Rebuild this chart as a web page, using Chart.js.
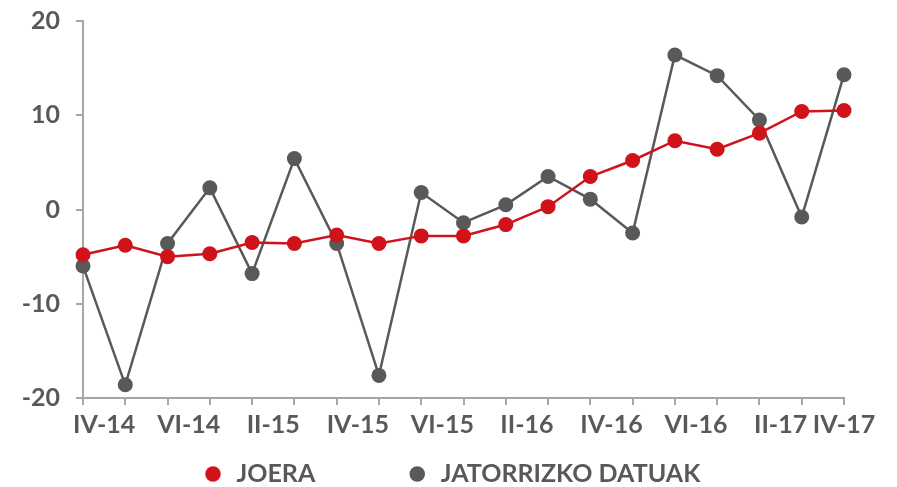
<!DOCTYPE html>
<html>
<head>
<meta charset="utf-8">
<script src="https://cdn.jsdelivr.net/npm/chart.js@4"></script>
<style>
html,body{margin:0;padding:0;background:#ffffff;}
canvas{display:block;}
</style>
</head>
<body>
<canvas id="c" width="897" height="487"></canvas>
<script>
// ---- data ----
const categories = ['IV-14','V-14','VI-14','I-15','II-15','III-15','IV-15','V-15','VI-15','I-16','II-16','III-16','IV-16','V-16','VI-16','I-17','II-17','III-17','IV-17'];
const joera = [-4.8,-3.8,-5.0,-4.7,-3.5,-3.6,-2.7,-3.6,-2.8,-2.8,-1.6,0.3,3.5,5.2,7.3,6.4,8.1,10.4,10.5];
const jatorrizkoDatuak = [-6.0,-18.6,-3.6,2.3,-6.8,5.4,-3.6,-17.6,1.8,-1.4,0.5,3.5,1.1,-2.5,16.4,14.2,9.5,-0.8,14.3];
const tickLabels = ['IV-14','VI-14','II-15','IV-15','VI-15','II-16','IV-16','VI-16','II-17','IV-17'];
const yTicks = [-20,-10,0,10,20];
const seriesNames = ['JOERA','JATORRIZKO DATUAK'];

// ---- style ----
const RED = '#d0121b';
const GRAY = '#595959';
const AXIS = '#a6a6a6';
const TEXT = '#595959';
const FONT = {family: 'Lato', size: 25, weight: 'bold'};
const LEGEND_CENTER_Y = 474;
const LEGEND_GAP = 91;
const LEGEND_FIRST_X = 202;

const lastIndex = categories.length - 1;
function labelPos(label) {
  const idx = categories.indexOf(label);
  return Math.min(idx + 0.5, lastIndex);
}

const legendPlace = {
  id: 'legendPlace',
  afterLayout(chart) {
    const lg = chart.legend;
    if (!lg) return;
    const pad = lg.options.labels.padding;
    lg.top = LEGEND_CENTER_Y - pad - FONT.size / 2;
    lg.left = LEGEND_FIRST_X - pad;
    lg.right = chart.width;
    lg.width = lg.right - lg.left;
  }
};

new Chart(document.getElementById('c'), {
  type: 'line',
  data: {
    labels: categories,
    datasets: [
      {
        label: seriesNames[0],
        data: joera,
        borderColor: RED,
        backgroundColor: RED,
        pointBackgroundColor: RED,
        pointBorderWidth: 0,
        pointRadius: 7.5,
        pointHoverRadius: 7.5,
        borderWidth: 2.5,
        pointStyle: 'circle',
        tension: 0,
        clip: false
      },
      {
        label: seriesNames[1],
        data: jatorrizkoDatuak,
        borderColor: GRAY,
        backgroundColor: GRAY,
        pointBackgroundColor: GRAY,
        pointBorderWidth: 0,
        pointRadius: 7.5,
        pointHoverRadius: 7.5,
        borderWidth: 2.5,
        pointStyle: 'circle',
        tension: 0,
        clip: false
      }
    ]
  },
  options: {
    responsive: false,
    animation: false,
    devicePixelRatio: 1,
    layout: {padding: {left: 0, right: 53, top: 21, bottom: 0}},
    plugins: {
      tooltip: {enabled: false},
      legend: {
        display: true,
        position: 'bottom',
        align: 'start',
        maxHeight: 42,
        labels: {
          usePointStyle: true,
          pointStyle: 'circle',
          boxWidth: 22,
          boxHeight: 11,
          padding: LEGEND_GAP,
          color: TEXT,
          font: FONT
        }
      }
    },
    scales: {
      x: {
        type: 'category',
        position: 'bottom',
        offset: false,
        z: 1,
        grid: {display: true, drawOnChartArea: false, drawTicks: true, tickLength: 7, color: AXIS, lineWidth: 2},
        border: {display: true, color: AXIS, width: 2},
        ticks: {display: false, autoSkip: false}
      },
      xl: {
        type: 'linear',
        position: 'bottom',
        min: 0,
        max: lastIndex,
        grid: {display: false, drawTicks: false},
        border: {display: false},
        afterBuildTicks(axis) {
          axis.ticks = tickLabels.map(l => ({value: labelPos(l)}));
        },
        afterFit(axis) { axis.paddingLeft = 0; axis.paddingRight = 0; },
        ticks: {
          autoSkip: false,
          maxRotation: 0,
          minRotation: 0,
          padding: 5,
          color: TEXT,
          font: FONT,
          callback: (v, i) => tickLabels[i]
        }
      },
      y: {
        type: 'linear',
        min: -20,
        max: 20,
        z: 1,
        afterBuildTicks(axis) {
          axis.ticks = yTicks.map(v => ({value: v}));
        },
        afterFit(axis) { axis.width = 83; axis.paddingTop = 0; axis.paddingBottom = 0; },
        grid: {display: true, drawOnChartArea: false, drawTicks: true, tickLength: 7, color: AXIS, lineWidth: 2},
        border: {display: true, color: AXIS, width: 2},
        ticks: {padding: 16, color: TEXT, font: FONT}
      }
    }
  },
  plugins: [legendPlace]
});
</script>
</body>
</html>
